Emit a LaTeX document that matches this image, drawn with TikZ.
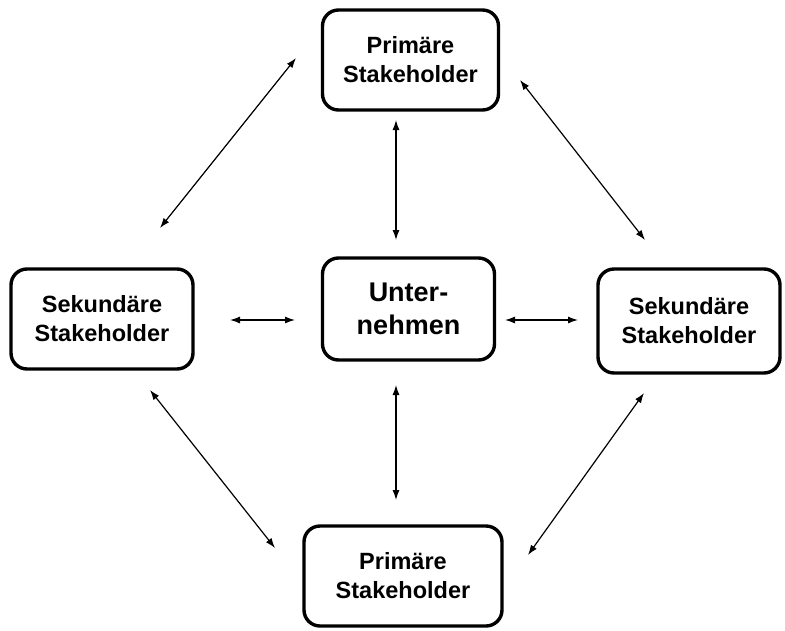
\documentclass[tikz,border=0pt]{standalone}
\usepackage{fontspec}
\setmainfont{Liberation Sans}
\usetikzlibrary{arrows.meta}
\begin{document}
\begin{tikzpicture}[x=1pt,y=-1pt,
  box/.style={draw=black, line width=3.4pt, rounded corners=16pt, fill=white, align=center, font=\bfseries\fontsize{23.5}{29}\selectfont, inner sep=0pt},
  link/.style={line width=1.2pt, {Latex[length=10pt,width=7pt]}-{Latex[length=10pt,width=7pt]}}]
\useasboundingbox (0,0) rectangle (785,630);
\node[box, minimum width=176pt, minimum height=100pt] (top) at (410.5,60) {Primäre\\Stakeholder};
\node[box, minimum width=182pt, minimum height=100pt] (left) at (102,319) {Sekundäre\\Stakeholder};
\node[box, minimum width=182pt, minimum height=104pt] (right) at (689,321) {Sekundäre\\Stakeholder};
\node[box, minimum width=172pt, minimum height=102pt, font=\bfseries\fontsize{27}{33}\selectfont] (center) at (408.5,309) {Unter-\\nehmen};
\node[box, minimum width=198pt, minimum height=100pt] (bottom) at (403,576) {Primäre\\Stakeholder};
\coordinate (a1) at (160,228); \coordinate (a2) at (296,58);
\coordinate (b1) at (520,80);  \coordinate (b2) at (645,240);
\coordinate (c1) at (150,390); \coordinate (c2) at (275,548);
\coordinate (d1) at (528,555); \coordinate (d2) at (644,393);
\coordinate (e1) at (396,120); \coordinate (e2) at (396,240);
\coordinate (f1) at (396,385); \coordinate (f2) at (396,500);
\coordinate (g1) at (230,320); \coordinate (g2) at (295,320);
\coordinate (h1) at (505,320); \coordinate (h2) at (578,320);
\draw[link] (a1) -- (a2);
\draw[link] (b1) -- (b2);
\draw[link] (c1) -- (c2);
\draw[link] (d1) -- (d2);
\draw[link] (e1) -- (e2);
\draw[link] (f1) -- (f2);
\draw[link] (g1) -- (g2);
\draw[link] (h1) -- (h2);
\end{tikzpicture}
\end{document}
